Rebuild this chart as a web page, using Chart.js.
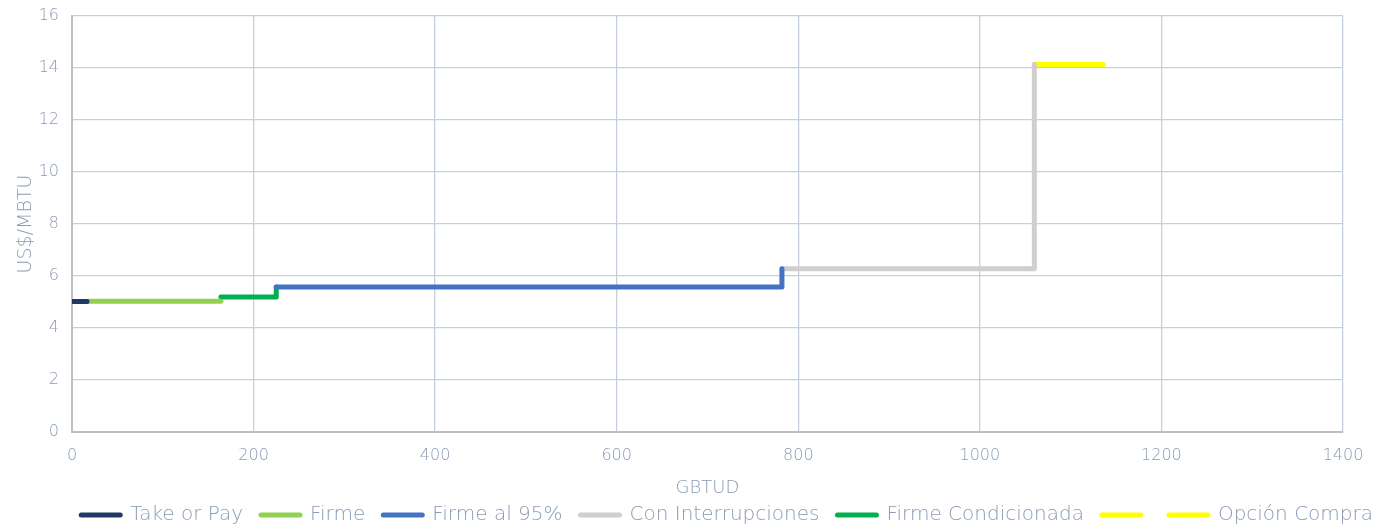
<!DOCTYPE html>
<html>
<head>
<meta charset="utf-8">
<script src="https://cdn.jsdelivr.net/npm/chart.js@4/dist/chart.umd.min.js"></script>
<style>
  html, body { margin: 0; padding: 0; background: #ffffff; }
  #wrap { width: 1391px; height: 529px; position: relative; }
</style>
</head>
<body>
<div id="wrap"><canvas id="curve"></canvas></div>
<script>
  // ── Data ─────────────────────────────────────────────────────────────
  var SERIES_NAMES = ['Take or Pay', 'Firme', 'Firme al 95%', 'Con Interrupciones',
                      'Firme Condicionada', '', 'Opción Compra'];

  var takeOrPayX = [0, 16.5];
  var takeOrPayY = [5.02, 5.02];

  var firmeX = [17, 164];
  var firmeY = [5.03, 5.03];

  var firme95X = [225, 782, 782];
  var firme95Y = [5.58, 5.58, 6.28];

  var conInterrupcionesX = [782, 1060, 1060];
  var conInterrupcionesY = [6.28, 6.28, 14.13];

  var firmeCondX = [164, 225, 225];
  var firmeCondY = [5.19, 5.19, 5.58];

  var blankX = [];
  var blankY = [];

  var opcionCompraX = [1060, 1136];
  var opcionCompraY = [14.13, 14.13];

  var X_TICKS = [0, 200, 400, 600, 800, 1000, 1200, 1400];
  var Y_TICKS = [0, 2, 4, 6, 8, 10, 12, 14, 16];

  var COLORS = ['#1f3864', '#92d050', '#4472c4', '#d0cece', '#00b050', '#ffff00', '#ffff00'];

  var TEXT = '#8a9bb3';
  var GRID = '#c6cfdc';
  var FONT = '"DejaVu Sans", sans-serif';

  function pts(xs, ys) {
    return xs.map(function (x, i) { return { x: x, y: ys[i] }; });
  }

  var raw = [
    [takeOrPayX, takeOrPayY],
    [firmeX, firmeY],
    [firme95X, firme95Y],
    [conInterrupcionesX, conInterrupcionesY],
    [firmeCondX, firmeCondY],
    [blankX, blankY],
    [opcionCompraX, opcionCompraY]
  ];

  var datasets = raw.map(function (r, i) {
    return {
      label: SERIES_NAMES[i],
      data: pts(r[0], r[1]),
      showLine: true,
      borderColor: COLORS[i],
      backgroundColor: COLORS[i],
      borderWidth: 5,
      borderCapStyle: 'round',
      borderJoinStyle: 'round',
      pointRadius: 0,
      pointHoverRadius: 0,
      tension: 0
    };
  });

  new Chart(document.getElementById('curve'), {
    type: 'scatter',
    data: { datasets: datasets },
    options: {
      responsive: true,
      maintainAspectRatio: false,
      animation: false,
      layout: { padding: { top: 16, right: 0, left: 0, bottom: -6 } },
      plugins: {
        tooltip: { enabled: false },
        legend: {
          position: 'bottom',
          align: 'end',
          labels: {
            color: TEXT,
            font: { family: FONT, size: 20, weight: 200 },
            usePointStyle: true,
            pointStyleWidth: 39,
            padding: 18,
            generateLabels: function (chart) {
              return chart.data.datasets.map(function (ds, i) {
                return {
                  text: ds.label,
                  fillStyle: ds.borderColor,
                  strokeStyle: ds.borderColor,
                  lineWidth: 5,
                  lineCap: 'round',
                  pointStyle: 'line',
                  fontColor: TEXT,
                  hidden: false,
                  datasetIndex: i
                };
              });
            }
          }
        }
      },
      scales: {
        x: {
          type: 'linear',
          min: 0,
          max: 1400,
          afterBuildTicks: function (s) { s.ticks = X_TICKS.map(function (v) { return { value: v }; }); },
          afterFit: function (s) { s.height = 55; s.paddingLeft = 0; s.paddingRight = 0; },
          grid: { color: GRID, lineWidth: 1.3, drawTicks: false },
          border: { color: '#bfbfbf', width: 2 },
          ticks: {
            color: TEXT, font: { family: FONT, size: 16, weight: 200 }, padding: 14,
            callback: function (v) { return String(v); }
          },
          title: {
            display: true, text: 'GBTUD', color: TEXT,
            font: { family: FONT, size: 18, weight: 200 }, padding: { top: 0, bottom: -12 }
          }
        },
        y: {
          min: 0,
          max: 16,
          afterBuildTicks: function (s) { s.ticks = Y_TICKS.map(function (v) { return { value: v }; }); },
          afterFit: function (s) { s.width = 72; s.paddingTop = 0; s.paddingBottom = 0; },
          grid: { color: GRID, lineWidth: 1.3, drawTicks: false },
          border: { color: '#bfbfbf', width: 2 },
          ticks: {
            color: TEXT, font: { family: FONT, size: 16, weight: 200 }, padding: 13,
            callback: function (v) { return String(v); }
          },
          title: {
            display: true, text: 'US$/MBTU', color: TEXT,
            font: { family: FONT, size: 19, weight: 200 }, padding: { top: 15, bottom: 0 }
          }
        },
        // empty right-hand spacer so the legend can use the full width
        spacer: {
          type: 'linear',
          position: 'right',
          min: 0,
          max: 16,
          afterFit: function (s) { s.width = 48; s.paddingTop = 0; s.paddingBottom = 0; },
          grid: { display: false },
          border: { display: false },
          ticks: { display: false }
        }
      }
    }
  });
</script>
</body>
</html>
